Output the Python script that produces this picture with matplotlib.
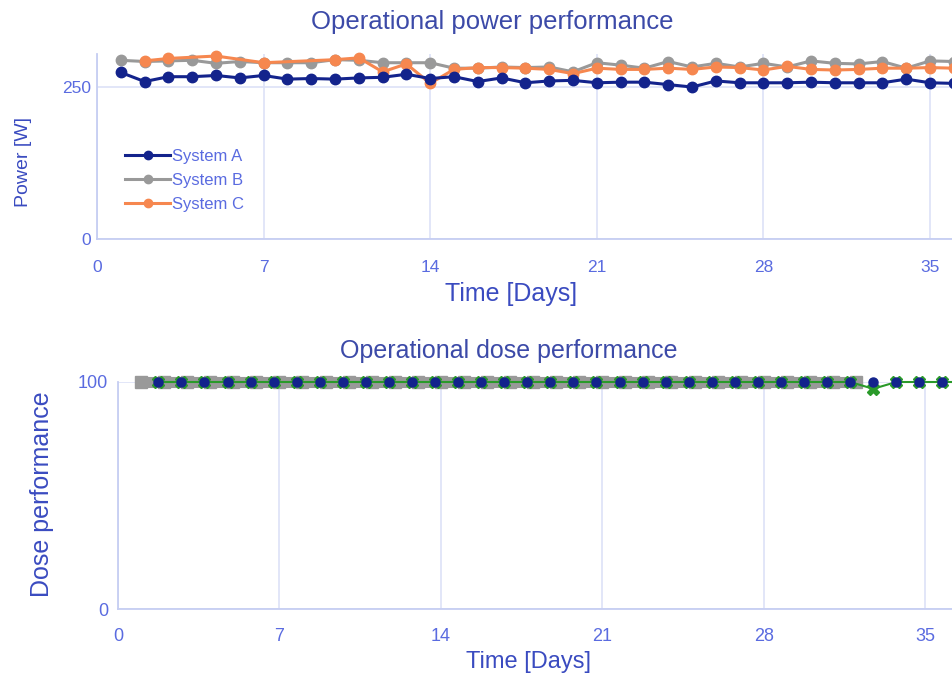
import matplotlib
matplotlib.use('Agg')
import matplotlib.pyplot as plt
import numpy as np

nan = np.nan

# Daily power readings [W]
days = np.arange(1, 37)
power_a = [274, 259, 267, 267, 269, 265, 269, 263, 264, 263,
           265, 266, 271, 264, 267, 259, 265, 257, 260, 261,
           257, 258, 258, 254, 250, 260, 257, 257, 257, 258,
           257, 257, 257, 263, 257, 256]
power_b = [294, 292, 293, 294, 289, 292, 290, 290, 290, 295,
           294, 290, 290, 290, 281, 281, 283, 282, 283, 275,
           290, 286, 281, 292, 283, 289, 283, 289, 283, 293,
           289, 288, 292, 281, 293, 292]
power_c = [nan, 293, 297, nan, 301, nan, 290, nan, nan, 295,
           298, 275, 288, 256, 279, 282, 282, 281, 279, 272,
           281, 279, 279, 281, 279, 283, 282, 278, 284, 279,
           278, 279, 281, 281, 282, 281]

# Dose performance; systems A and C are sampled late in the day
sample_hour = 18
dose_b_days = np.arange(1, 33)
dose_b = [100, 100, 100, 100, 100, 100, 100, 100, 100, 100,
          100, 100, 100, 100, 100, 100, 100, 100, 100, 100,
          100, 100, 100, 100, 100, 100, 100, 100, 100, 100,
          100, 100]
dose_a = [100, 100, 100, 100, 100, 100, 100, 100, 100, 100,
          100, 100, 100, 100, 100, 100, 100, 100, 100, 100,
          100, 100, 100, 100, 100, 100, 100, 100, 100, 100,
          100, 100, 100, 100, 100, 100]
dose_c = [100, 100, 100, 100, 100, 100, 100, 100, 100, 100,
          100, 100, 100, 100, 100, 100, 100, 100, 100, 100,
          100, 100, 100, 100, 100, 100, 100, 100, 100, 100,
          100, 97, 100, 100, 100, 100]

labels = ['System A', 'System B', 'System C']
week_ticks = [0, 7, 14, 21, 28, 35]

NAVY = '#13238c'
GREY = '#999999'
ORANGE = '#f6874f'
GREEN = '#2a9a2a'
TICK_COL = '#5a6be0'
LABEL_COL = '#3a4bc0'
TITLE_COL = '#3c4aa8'
GRID_COL = '#dde2f7'
SPINE_COL = '#c6cef2'

plt.rcParams['font.family'] = ['Liberation Sans', 'DejaVu Sans']


def style_axes(ax, yticks, size, xpad, ypad):
    for side in ('top', 'right'):
        ax.spines[side].set_visible(False)
    for side in ('left', 'bottom'):
        ax.spines[side].set_color(SPINE_COL)
        ax.spines[side].set_linewidth(1.3)
    ax.set_xticks(week_ticks)
    ax.set_yticks(yticks)
    ax.tick_params(length=0, labelsize=size, labelcolor=TICK_COL)
    ax.tick_params(axis='x', pad=xpad)
    ax.tick_params(axis='y', pad=ypad)
    ax.grid(True, color=GRID_COL, linewidth=1.2)
    ax.set_axisbelow(True)


fig = plt.figure(figsize=(9.52, 6.75), dpi=100)

# Power panel
ax1 = fig.add_axes([97 / 952, 1 - 239 / 675, 1 - 97 / 952, (239 - 53.6) / 675])
c = np.array(power_c)
ok = np.isfinite(c)
ax1.plot(days, power_b, color=GREY, lw=2.2, marker='o', ms=7.5,
         label=labels[1], zorder=3, clip_on=False)
ax1.plot(days[ok], c[ok], color=ORANGE, lw=2.2, marker='o', ms=7.5,
         label=labels[2], zorder=4, clip_on=False)
ax1.plot(days, power_a, color=NAVY, lw=2.2, marker='o', ms=7.5,
         label=labels[0], zorder=5, clip_on=False)
ax1.set_xlim(0, 855 / 23.8)
ax1.set_ylim(0, 305)
style_axes(ax1, [0, 250], 12.5, 15, 4)
ax1.set_xlabel('Time [Days]', fontsize=18, color=LABEL_COL, labelpad=5, x=0.484)
ax1.set_ylabel('Power [W]', fontsize=14, color=LABEL_COL)
ax1.yaxis.set_label_coords(-0.076, 0.415)
ax1.set_title('Operational power performance', fontsize=18.5, color=TITLE_COL,
              pad=18, x=0.462)
handles, hl = ax1.get_legend_handles_labels()
order = [2, 0, 1]
leg = ax1.legend([handles[i] for i in order], [hl[i] for i in order],
                 loc='upper left', bbox_to_anchor=(0.033, 0.487), frameon=False,
                 fontsize=12, handlelength=2.7, handletextpad=0.1,
                 labelspacing=0.55, borderpad=0, borderaxespad=0,
                 markerscale=0.8)
for t in leg.get_texts():
    t.set_color(TICK_COL)

# Dose panel
ax2 = fig.add_axes([118 / 952, 66 / 675, 1 - 118 / 952, 227 / 675])
t_ac = days + sample_hour / 24
ax2.plot(dose_b_days, dose_b, color=GREY, lw=8, marker='s', ms=9,
         zorder=3, clip_on=False)
ax2.plot(t_ac, dose_c, color=GREEN, lw=1.5, marker='X', ms=8.5,
         zorder=4, clip_on=False)
ax2.plot(t_ac, dose_a, color=NAVY, lw=0, marker='o', ms=6.5,
         zorder=5, clip_on=False)
ax2.set_xlim(0, 834 / 23.06)
ax2.set_ylim(0, 100)
style_axes(ax2, [0, 100], 13, 14, 7)
ax2.set_xlabel('Time [Days]', fontsize=17, color=LABEL_COL, labelpad=4, x=0.492)
ax2.set_ylabel('Dose performance', fontsize=18, color=LABEL_COL)
ax2.yaxis.set_label_coords(-0.077, 0.507)
ax2.set_title('Operational dose performance', fontsize=18, color=TITLE_COL,
              pad=17, x=0.469)

fig.savefig('out.png', dpi=100)
